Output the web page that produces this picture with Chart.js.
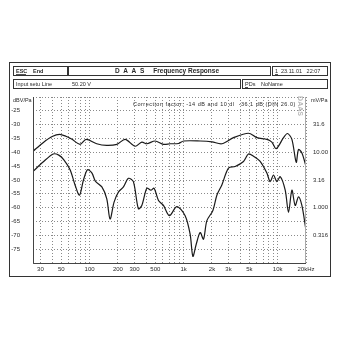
<!DOCTYPE html>
<html><head><meta charset="utf-8">
<script src="https://cdn.jsdelivr.net/npm/chart.js@4.4.1/dist/chart.umd.min.js"></script>
<style>html,body{margin:0;padding:0;background:#fff}#wrap{width:340px;height:340px}</style>
</head><body><div id="wrap"><canvas id="c" width="340" height="340"></canvas></div>
<script>
// ---- data ----
const upperFreq = [25,32,40,48,56,65,79,92,119,152,195,239,305,359,406,497,610,718,881,1000,1500,2000,2546,3388,4890,6010,7670,8670,9640,11530,12700,14160,15740,16640,18080,19800];
const upperDb   = [-39.6,-36.5,-34.3,-33.5,-34.2,-35.3,-37.1,-35.3,-36.9,-37.5,-37.1,-35.3,-37.8,-36.3,-36.9,-35.9,-37.1,-36.9,-36.8,-35.9,-35.9,-36.2,-36.9,-34.7,-33.1,-34.7,-35.3,-36.3,-38.7,-34.7,-33.2,-35.3,-43.6,-39.0,-40.2,-44.5];
const lowerFreq = [25,32,41,47,53,62,70,78,86,95,106,115,135,152,165,182,203,229,259,292,330,359,406,448,485,540,610,706,847,1037,1172,1253,1358,1499,1625,1766,2046,2255,2548,2997,3530,4329,4890,5530,6510,7670,8320,9020,9800,10630,12020,13030,14160,15350,16640,18080,19800];
const lowerDb   = [-46.9,-43.5,-40.6,-41.0,-42.6,-46.3,-51.8,-55.5,-50.0,-46.3,-47.5,-50.4,-52.5,-56.7,-64.1,-58.0,-54.3,-52.5,-49.4,-50.6,-60.4,-59.2,-53.0,-53.7,-53.0,-57.4,-59.2,-62.9,-59.6,-62.9,-69.6,-77.6,-73.3,-69.0,-71.4,-64.7,-61.0,-55.5,-51.8,-45.7,-45.1,-43.3,-40.6,-41.4,-43.3,-47.5,-50.6,-48.2,-50.6,-48.8,-53.7,-61.7,-53.7,-59.2,-56.1,-59.2,-67.2];
const xGridFreqs = [30,40,50,60,70,80,90,100,200,300,400,500,600,700,800,900,1000,2000,3000,4000,5000,6000,7000,8000,9000,10000,20000];
const xTickLabels = {30:'30',50:'50',100:'100',200:'200',300:'300',500:'500',1000:'1k',2000:'2k',3000:'3k',5000:'5k',10000:'10k',20000:'20kHz'};
const leftTickValues = [-25,-30,-35,-40,-45,-50,-55,-60,-65,-70,-75];
const rightTickValues = [-30,-40,-50,-60,-70];
const rightTickLabels = ['31.6','10.00','3.16','1.000','0.316'];
const yMin = -80, yMax = -20, xMin = 25, xMax = 20000;

const F = '"Liberation Sans", Arial, sans-serif';
const FN = '"Liberation Sans Narrow", "Liberation Sans", Arial, sans-serif';
const ink = '#2a2a2a';

const framePlugin = {
  id:'frame',
  beforeDraw(chart){
    const ctx = chart.ctx;
    ctx.save();
    ctx.fillStyle='#fff'; ctx.fillRect(0,0,340,340);
    ctx.strokeStyle='#333'; ctx.lineWidth=1;
    ctx.strokeRect(9.5,62.5,321,214);
    ctx.strokeRect(13.5,66.5,55,9);
    ctx.strokeRect(68.5,66.5,202,9);
    ctx.fillStyle='#333'; ctx.fillRect(67,66,2,10);
    ctx.strokeRect(272.5,66.5,55,9);
    ctx.strokeRect(13.5,79.5,227,9);
    ctx.strokeRect(242.5,79.5,85,9);
    ctx.fillStyle=ink; ctx.textBaseline='middle'; ctx.textAlign='left';
    ctx.font='bold 5.5px '+F;
    ctx.fillText('ESC',16,71.5);
    ctx.fillText('End',33,71.5);
    ctx.fillRect(16,74,10,0.8);
    ctx.font='bold 6.5px '+F;
    ctx.fillText('D  A  A  S     Frequency Response',115,71.5);
    ctx.font='5.5px '+FN;
    ctx.fillText('1',275,71.5);
    ctx.fillRect(275,74,3,0.8);
    ctx.fillText('23.11.01   22:07',281,71.5);
    ctx.fillText('Input setu Line',16,84.5);
    ctx.fillText('50.20 V',72,84.5);
    ctx.fillText('PDs',245,84.5);
    ctx.fillRect(245,87,3,0.8);
    ctx.fillText('NoName',261,84.5);
    ctx.restore();
  },
  afterDraw(chart){
    const ctx = chart.ctx, a = chart.chartArea;
    ctx.save();
    ctx.strokeStyle='#444'; ctx.lineWidth=1;
    ctx.beginPath();
    ctx.moveTo(a.left+0.5,a.top); ctx.lineTo(a.left+0.5,a.bottom+0.5); ctx.lineTo(a.right,a.bottom+0.5);
    ctx.stroke();
    ctx.strokeStyle='#aaa';
    ctx.beginPath(); ctx.moveTo(a.right-0.5,a.top); ctx.lineTo(a.right-0.5,a.bottom); ctx.stroke();
    ctx.fillStyle=ink; ctx.font='5.5px '+FN; ctx.textBaseline='middle';
    ctx.textAlign='left';
    ctx.fillText('dBV/Pa',13,100);
    ctx.fillText('mV/Pa',311,100);
    ctx.font='5.5px '+F;
    if ('letterSpacing' in ctx) ctx.letterSpacing='0.5px';
    ctx.fillText('Correction factor: -14 dB and 10 dl  -36.1 dB (DIN 26.0)',133,104);
    if ('letterSpacing' in ctx) ctx.letterSpacing='0px';
    ctx.translate(300,106); ctx.rotate(Math.PI/2);
    ctx.fillStyle='#b8b8b8'; ctx.font='bold 7px '+F; ctx.textAlign='center';
    ctx.fillText('DAAS',0,0);
    ctx.restore();
  }
};

const pts = (fs,ds)=>fs.map((f,i)=>({x:f,y:ds[i]}));

new Chart(document.getElementById('c'),{
  type:'line',
  data:{datasets:[
    {data:pts(upperFreq,upperDb),borderColor:'#1a1a1a',borderWidth:1.2,pointRadius:0,tension:0.3,fill:false},
    {data:pts(lowerFreq,lowerDb),borderColor:'#1a1a1a',borderWidth:1.2,pointRadius:0,tension:0.3,fill:false}
  ]},
  options:{
    responsive:false,animation:false,
    layout:{padding:{top:97,left:0,right:0,bottom:0}},
    plugins:{legend:{display:false},tooltip:{enabled:false}},
    scales:{
      x:{type:'logarithmic',min:xMin,max:xMax,
        afterBuildTicks(s){s.ticks=xGridFreqs.map(v=>({value:v}));},
        afterFit(s){s.height=77;},
        border:{display:false,dash:[1,2]},
        grid:{color:'#8a8a8a',lineWidth:1,drawTicks:false},
        ticks:{autoSkip:false,maxRotation:0,padding:3,color:ink,font:{size:6,family:F},
          callback(v){return xTickLabels[v]||'';}}
      },
      y:{position:'left',min:yMin,max:yMax,
        afterBuildTicks(s){s.ticks=[-80,-75,-70,-65,-60,-55,-50,-45,-40,-35,-30,-25,-20].map(v=>({value:v}));},
        afterFit(s){s.width=33;},
        border:{display:false,dash:[1,2]},
        grid:{color:'#8a8a8a',lineWidth:1,drawTicks:false},
        ticks:{padding:13,color:ink,font:{size:6,family:F},
          callback(v){return leftTickValues.includes(v)?String(v):'';}}
      },
      y2:{position:'right',min:yMin,max:yMax,
        afterBuildTicks(s){s.ticks=rightTickValues.map(v=>({value:v}));},
        afterFit(s){s.width=34;},
        border:{display:false},
        grid:{display:false,drawTicks:false},
        ticks:{padding:7,color:ink,font:{size:6,family:F},
          callback(v){const i=rightTickValues.indexOf(v);return i>=0?rightTickLabels[i]:'';}}
      }
    }
  },
  plugins:[framePlugin]
});
</script></body></html>
